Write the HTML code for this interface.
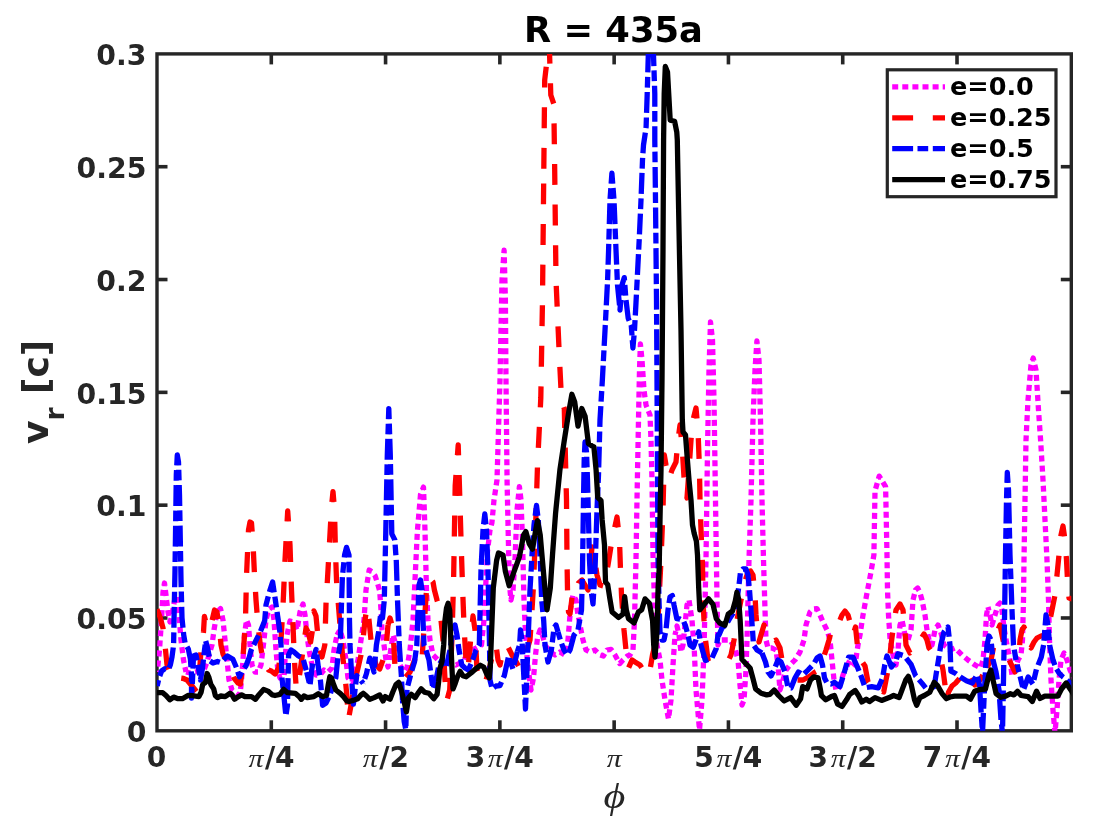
<!DOCTYPE html><html><head><meta charset="utf-8"><style>html,body{margin:0;padding:0;background:#fff;overflow:hidden}svg{display:block}</style></head><body><div id="w"><svg width="1094" height="830" viewBox="0 0 1094 830">
<rect width="1094" height="830" fill="#fff"/>
<g stroke="#262626" stroke-width="3.4" fill="none" stroke-linecap="square">
<rect x="157.0" y="53.9" width="914.30" height="676.90"/>
</g>
<g stroke="#262626" stroke-width="3.6" fill="none" stroke-linecap="butt">
<line x1="271.29" y1="730.8" x2="271.29" y2="720.3"/>
<line x1="271.29" y1="53.9" x2="271.29" y2="64.4"/>
<line x1="385.57" y1="730.8" x2="385.57" y2="720.3"/>
<line x1="385.57" y1="53.9" x2="385.57" y2="64.4"/>
<line x1="499.86" y1="730.8" x2="499.86" y2="720.3"/>
<line x1="499.86" y1="53.9" x2="499.86" y2="64.4"/>
<line x1="614.15" y1="730.8" x2="614.15" y2="720.3"/>
<line x1="614.15" y1="53.9" x2="614.15" y2="64.4"/>
<line x1="728.44" y1="730.8" x2="728.44" y2="720.3"/>
<line x1="728.44" y1="53.9" x2="728.44" y2="64.4"/>
<line x1="842.72" y1="730.8" x2="842.72" y2="720.3"/>
<line x1="842.72" y1="53.9" x2="842.72" y2="64.4"/>
<line x1="957.01" y1="730.8" x2="957.01" y2="720.3"/>
<line x1="957.01" y1="53.9" x2="957.01" y2="64.4"/>
<line x1="157.0" y1="617.98" x2="167.5" y2="617.98"/>
<line x1="1071.3" y1="617.98" x2="1060.8" y2="617.98"/>
<line x1="157.0" y1="505.17" x2="167.5" y2="505.17"/>
<line x1="1071.3" y1="505.17" x2="1060.8" y2="505.17"/>
<line x1="157.0" y1="392.35" x2="167.5" y2="392.35"/>
<line x1="1071.3" y1="392.35" x2="1060.8" y2="392.35"/>
<line x1="157.0" y1="279.53" x2="167.5" y2="279.53"/>
<line x1="1071.3" y1="279.53" x2="1060.8" y2="279.53"/>
<line x1="157.0" y1="166.72" x2="167.5" y2="166.72"/>
<line x1="1071.3" y1="166.72" x2="1060.8" y2="166.72"/>
</g>
<g font-family="DejaVu Sans, sans-serif" font-weight="bold" font-size="28.3" fill="#262626" text-anchor="end">
<text x="146.4" y="742.10">0</text>
<text x="146.4" y="629.28">0.05</text>
<text x="146.4" y="516.47">0.1</text>
<text x="146.4" y="403.65">0.15</text>
<text x="146.4" y="290.83">0.2</text>
<text x="146.4" y="178.02">0.25</text>
<text x="146.4" y="65.20">0.3</text>
</g>
<text x="156.50" y="767.2" font-family="DejaVu Sans, sans-serif" font-weight="bold" font-size="28" fill="#262626" text-anchor="middle">0</text>
<text transform="translate(248.39,767.2) scale(1.15,1)" x="0" y="0" font-family="Liberation Serif, serif" font-style="italic" font-size="26" fill="#262626">π</text>
<text x="264.89" y="767.2" font-family="DejaVu Sans, sans-serif" font-weight="bold" font-size="28" fill="#262626">/4</text>
<text transform="translate(362.68,767.2) scale(1.15,1)" x="0" y="0" font-family="Liberation Serif, serif" font-style="italic" font-size="26" fill="#262626">π</text>
<text x="379.18" y="767.2" font-family="DejaVu Sans, sans-serif" font-weight="bold" font-size="28" fill="#262626">/2</text>
<text transform="translate(606.75,767.2) scale(1.15,1)" x="0" y="0" font-family="Liberation Serif, serif" font-style="italic" font-size="26" fill="#262626">π</text>
<text x="465.66" y="767.2" font-family="DejaVu Sans, sans-serif" font-weight="bold" font-size="28" fill="#262626">3</text>
<text transform="translate(487.86,767.2) scale(1.15,1)" x="0" y="0" font-family="Liberation Serif, serif" font-style="italic" font-size="26" fill="#262626">π</text>
<text x="504.06" y="767.2" font-family="DejaVu Sans, sans-serif" font-weight="bold" font-size="28" fill="#262626">/4</text>
<text x="694.24" y="767.2" font-family="DejaVu Sans, sans-serif" font-weight="bold" font-size="28" fill="#262626">5</text>
<text transform="translate(716.44,767.2) scale(1.15,1)" x="0" y="0" font-family="Liberation Serif, serif" font-style="italic" font-size="26" fill="#262626">π</text>
<text x="732.64" y="767.2" font-family="DejaVu Sans, sans-serif" font-weight="bold" font-size="28" fill="#262626">/4</text>
<text x="808.52" y="767.2" font-family="DejaVu Sans, sans-serif" font-weight="bold" font-size="28" fill="#262626">3</text>
<text transform="translate(830.72,767.2) scale(1.15,1)" x="0" y="0" font-family="Liberation Serif, serif" font-style="italic" font-size="26" fill="#262626">π</text>
<text x="846.92" y="767.2" font-family="DejaVu Sans, sans-serif" font-weight="bold" font-size="28" fill="#262626">/2</text>
<text x="922.81" y="767.2" font-family="DejaVu Sans, sans-serif" font-weight="bold" font-size="28" fill="#262626">7</text>
<text transform="translate(945.01,767.2) scale(1.15,1)" x="0" y="0" font-family="Liberation Serif, serif" font-style="italic" font-size="26" fill="#262626">π</text>
<text x="961.21" y="767.2" font-family="DejaVu Sans, sans-serif" font-weight="bold" font-size="28" fill="#262626">/4</text>
<g transform="translate(614.45,808) scale(1.17,1)"><text x="0" y="0" font-family="Liberation Serif, serif" font-style="italic" font-size="36" fill="#262626" text-anchor="middle">ϕ</text></g>
<g transform="translate(48.4,444) rotate(-90)" font-family="DejaVu Sans, sans-serif" font-weight="bold" font-size="36" fill="#262626"><text x="0" y="0">v<tspan font-size="26.5" dy="15.5">r</tspan><tspan dy="-15.5" dx="1"> [c]</tspan></text></g>
<text x="613.45" y="42.3" font-family="DejaVu Sans, sans-serif" font-weight="bold" font-size="35.3" fill="#000" text-anchor="middle">R = 435a</text>
<defs><clipPath id="cp"><rect x="157.0" y="53.9" width="914.30" height="676.90"/></clipPath></defs>
<g clip-path="url(#cp)" fill="none" stroke-width="5.3" stroke-linejoin="round">
<path d="M157.2 672.0 L159.5 650.0 L161.5 620.0 L163.0 592.0 L164.5 583.0 L166.0 595.0 L168.0 612.0 L170.0 622.0 L172.0 615.0 L175.0 598.0 L177.0 596.0 L179.0 615.0 L181.0 640.0 L183.5 660.0 L186.0 672.0" stroke="#ff00ff" stroke-dasharray="6 4.1" stroke-dashoffset="4.55" stroke-linecap="butt"/>
<path d="M186.0 672.0 L190.0 673.0 L195.0 672.0 L200.0 671.0 L204.0 670.0 L207.0 662.0 L209.0 655.0 L212.0 645.0 L214.0 630.0 L217.0 612.0 L220.5 608.5 L223.0 620.0 L225.0 640.0 L227.0 660.0 L229.0 680.0 L232.0 690.0 L237.0 694.0 L240.0 695.0 L241.5 680.0 L243.0 660.0 L244.5 635.0 L246.5 620.0 L248.5 625.0 L250.0 645.0 L252.0 665.0 L255.0 672.0 L258.0 672.0" stroke="#ff00ff" stroke-dasharray="6 4.1" stroke-dashoffset="0.76" stroke-linecap="butt"/>
<path d="M258.0 672.0 L261.0 665.0 L264.0 640.0 L266.0 620.0 L268.5 610.0 L272.0 607.0 L274.0 620.0 L276.0 650.0 L278.0 672.0 L280.0 678.0 L284.0 677.0 L285.0 660.0 L287.0 635.0 L290.0 621.0 L294.0 622.0 L297.0 630.0 L300.0 612.0 L303.0 604.0 L305.0 615.0 L307.0 635.0 L309.0 650.0 L312.0 665.0 L316.0 675.0 L320.0 675.0 L324.0 670.0 L328.0 672.0 L332.0 668.0 L334.0 650.0 L337.0 635.0" stroke="#ff00ff" stroke-dasharray="6 4.1" stroke-dashoffset="5.94" stroke-linecap="butt"/>
<path d="M337.0 635.0 L340.0 630.0 L343.0 640.0 L346.0 660.0 L348.0 678.0 L352.0 682.0 L356.0 668.0 L358.0 660.0 L361.0 640.0 L364.0 620.0 L366.0 590.0 L369.2 570.0 L372.0 572.0 L375.2 576.0 L378.0 585.0 L379.7 591.0 L381.0 610.0 L382.0 630.0 L384.0 645.0 L386.0 660.0 L388.0 667.0 L390.0 655.0" stroke="#ff00ff" stroke-dasharray="6 4.1" stroke-dashoffset="0.86" stroke-linecap="butt"/>
<path d="M390.0 655.0 L393.0 635.0 L396.0 645.0 L400.0 665.0 L404.0 672.0 L407.0 668.0 L410.0 650.0 L413.0 620.0 L415.0 580.0 L417.4 530.8 L420.5 494.6 L423.5 487.1 L425.0 530.8 L426.5 591.2 L428.0 620.0 L430.0 640.0 L433.0 655.0 L438.0 660.0 L443.0 665.0 L448.0 660.0 L452.0 662.0 L456.0 665.0 L460.0 663.0 L464.0 660.0 L468.4 652.0" stroke="#ff00ff" stroke-dasharray="6 4.1" stroke-dashoffset="9.26" stroke-linecap="butt"/>
<path d="M468.4 652.0 L472.0 650.0 L476.0 648.0 L481.5 645.0 L484.0 620.0 L486.0 580.0 L487.5 551.3 L490.0 530.0 L491.9 522.9 L494.0 500.0 L497.0 480.0 L500.0 380.0 L502.0 280.0 L504.1 250.2 L505.4 300.0 L506.0 381.0 L507.1 482.4 L508.8 560.0 L510.0 590.0" stroke="#ff00ff" stroke-dasharray="6 4.1" stroke-dashoffset="6.38" stroke-linecap="butt"/>
<path d="M510.0 590.0 L511.0 600.0 L513.0 590.0 L515.0 560.0 L517.0 510.0 L519.4 486.6 L521.0 500.0 L522.5 540.0 L524.0 600.0 L525.0 623.0 L527.3 661.5 L531.0 690.0 L533.5 678.0 L535.5 655.0 L537.5 638.0 L540.0 630.0 L542.5 635.0 L545.0 645.0 L550.0 652.0 L555.0 655.0 L560.0 652.0 L565.0 655.0 L568.0 640.0 L570.4 610.0 L573.0 595.0 L576.0 600.0 L578.0 615.0" stroke="#ff00ff" stroke-dasharray="6 4.1" stroke-dashoffset="0.32" stroke-linecap="butt"/>
<path d="M578.0 615.0 L580.0 625.0 L583.0 640.0 L586.0 650.0 L590.0 652.0 L595.0 650.0 L600.0 655.0 L603.3 656.0 L607.0 650.0 L611.0 649.4 L615.0 655.0 L619.7 663.6 L623.0 660.0 L627.4 656.0 L630.0 655.0 L633.0 650.0 L634.5 620.0 L636.0 560.0 L637.0 500.0 L638.5 420.0 L639.5 370.0 L640.4 344.0 L642.0 360.0 L644.0 390.0 L646.0 405.0 L648.0 410.0 L650.0 415.0 L651.0 440.0 L652.0 480.0 L653.0 555.0 L655.0 620.0 L657.0 645.0 L660.0 660.0 L662.0 680.0 L665.0 700.0 L668.5 719.0 L671.0 700.0 L673.0 665.0 L675.0 635.0" stroke="#ff00ff" stroke-dasharray="6 4.1" stroke-dashoffset="7.46" stroke-linecap="butt"/>
<path d="M675.0 635.0 L677.0 626.0 L679.0 635.0 L681.0 652.0 L683.0 645.0 L685.0 625.0 L687.0 605.0 L689.0 600.0 L692.0 620.0 L694.3 650.0 L696.0 690.0 L699.5 730.0 L702.0 700.0 L704.0 650.0 L706.0 560.0 L707.5 450.0 L709.0 370.0 L710.5 322.0 L712.5 340.0 L714.0 400.0 L715.5 500.0 L717.0 600.0 L718.0 645.0 L720.0 640.0 L725.0 640.0 L730.0 640.0 L735.0 648.0 L738.0 660.0" stroke="#ff00ff" stroke-dasharray="6 4.1" stroke-dashoffset="2.06" stroke-linecap="butt"/>
<path d="M738.0 660.0 L740.0 685.0 L742.0 705.0 L744.0 700.0 L746.0 670.0 L747.0 640.0 L748.0 600.0 L749.0 560.0 L751.0 500.0 L753.0 420.0 L755.0 370.0 L756.9 341.0 L759.0 360.0 L760.5 420.0 L762.0 500.0 L763.5 560.0 L765.0 610.0 L766.0 640.0 L768.0 648.0 L772.0 648.0 L776.0 650.0 L778.0 665.0" stroke="#ff00ff" stroke-dasharray="6 4.1" stroke-dashoffset="7.27" stroke-linecap="butt"/>
<path d="M778.0 665.0 L780.0 690.0 L783.0 680.0 L786.0 670.0 L790.0 665.0 L795.0 660.0 L800.0 652.0 L804.0 640.0 L806.0 625.0 L810.0 612.0 L813.0 609.0 L817.0 608.7 L820.0 615.0 L823.0 622.0 L827.0 630.0 L830.0 640.0 L832.0 660.0 L834.0 680.0 L836.0 690.0 L839.0 688.0 L843.0 675.0 L846.0 668.0" stroke="#ff00ff" stroke-dasharray="6 4.1" stroke-dashoffset="5.69" stroke-linecap="butt"/>
<path d="M846.0 668.0 L850.0 660.0 L855.0 665.0 L858.0 645.0 L860.0 635.0 L863.0 615.0 L867.0 593.0 L870.6 574.0 L873.9 555.0 L875.0 490.9 L879.2 476.1 L885.6 486.7 L887.0 555.0 L887.5 590.0 L888.5 615.0 L890.0 638.0 L893.0 655.0 L896.0 665.0 L898.0 650.0" stroke="#ff00ff" stroke-dasharray="6 4.1" stroke-dashoffset="7.96" stroke-linecap="butt"/>
<path d="M898.0 650.0 L900.0 625.0 L902.0 620.0 L905.0 635.0 L908.0 640.0 L911.0 630.0 L913.0 600.0 L915.5 590.0 L917.7 588.0 L920.0 593.0 L922.0 600.0 L925.0 615.0 L927.0 630.0 L929.0 640.0 L932.0 645.0 L935.0 630.0 L938.0 625.0 L941.0 633.0 L944.0 645.0 L950.0 650.0 L955.0 648.0 L962.0 655.0 L968.0 660.0 L975.0 665.0 L980.7 668.0 L983.0 660.0 L985.0 640.0 L986.5 615.0 L988.0 607.0" stroke="#ff00ff" stroke-dasharray="6 4.1" stroke-dashoffset="8.72" stroke-linecap="butt"/>
<path d="M988.0 607.0 L990.0 615.0 L992.0 625.0 L995.0 615.0 L998.0 605.0 L1000.0 603.0 L1002.0 610.0 L1004.0 628.0 L1007.0 645.0 L1010.0 660.0 L1012.0 675.0 L1015.0 670.0 L1018.0 660.0 L1021.0 655.0 L1022.5 640.0 L1023.5 600.0 L1024.0 560.0 L1025.0 500.0 L1026.0 440.0 L1028.0 400.0 L1031.0 365.0 L1033.2 358.0 L1036.0 370.0 L1038.5 410.0 L1040.6 440.0 L1043.0 480.0 L1045.0 520.0 L1047.0 560.0 L1048.5 600.0 L1049.5 640.0 L1051.0 680.0 L1053.0 710.0 L1055.0 733.0 L1057.0 710.0 L1059.0 680.0 L1061.0 660.0 L1064.0 653.0 L1067.0 660.0 L1070.0 670.0 L1075.0 680.0" stroke="#ff00ff" stroke-dasharray="6 4.1" stroke-dashoffset="2.34" stroke-linecap="butt"/>
<path d="M156.0 607.0 L160.0 617.0 L163.0 628.0 L165.0 645.0 L167.0 664.7 L171.5 676.8 L174.7 680.1 L179.1 677.9 L183.5 678.5 L187.0 680.0 L192.0 686.0 L197.0 692.0 L199.0 680.0 L201.0 650.0 L203.5 632.0 L204.4 616.4 L207.6 629.6 L212.0 620.8 L214.5 610.0 L217.0 612.0 L219.7 631.0 L221.0 645.0 L223.0 654.0 L227.0 662.0 L231.0 670.0 L234.0 678.0 L238.0 683.0 L240.5 684.0 L242.0 670.0 L243.5 650.0 L245.5 620.0 L246.5 576.0 L248.5 530.0 L250.0 522.0 L251.5 523.0 L253.0 543.0 L254.5 575.0 L256.0 600.0 L258.0 625.0 L260.3 645.0 L263.0 660.0 L265.8 666.0" stroke="#ff0000" stroke-dasharray="20.9 19.7" stroke-dashoffset="38.13" stroke-linecap="butt"/>
<path d="M265.8 666.0 L268.5 670.0 L271.3 671.0 L275.0 674.0 L278.8 668.0 L281.0 640.0 L282.5 615.0 L283.5 595.0 L285.0 560.0 L287.7 511.0 L290.0 545.0 L291.5 590.0 L293.0 625.0 L294.0 650.0 L295.0 670.0 L296.3 689.0 L298.5 682.0 L301.0 665.0 L303.0 650.0 L306.0 628.0 L308.0 632.0" stroke="#ff0000" stroke-dasharray="20.9 19.7" stroke-dashoffset="36.52" stroke-linecap="butt"/>
<path d="M308.0 632.0 L310.6 642.0 L312.8 628.0 L313.9 611.0 L316.0 616.0 L318.3 640.0 L320.0 650.0 L322.0 657.0 L324.8 645.0 L326.0 604.0 L328.0 570.0 L331.5 506.7 L333.0 491.6 L334.5 509.7 L335.4 548.9 L336.5 580.0 L338.0 600.0 L340.0 625.0 L342.4 653.8 L344.6 672.4 L346.8 694.4 L348.4 719.6 L352.0 700.0 L355.0 680.0 L358.0 668.0 L361.0 655.0 L363.0 640.0 L365.0 620.0 L367.0 607.0 L369.0 620.0 L371.0 640.0 L373.0 652.0 L376.0 665.0 L379.7 669.0 L383.0 660.0 L386.3 645.0 L388.0 625.0" stroke="#ff0000" stroke-dasharray="20.9 19.7" stroke-dashoffset="40.18" stroke-linecap="butt"/>
<path d="M388.0 625.0 L390.0 618.0 L392.0 625.0 L393.8 645.0 L395.0 667.0 L400.0 675.0 L405.0 678.0 L410.0 672.0 L414.6 660.0 L418.0 667.0 L422.3 655.0 L424.5 620.0 L426.5 590.0 L429.5 578.0 L433.0 582.0 L434.4 590.0 L437.0 600.0 L440.0 610.0 L443.0 640.0 L445.0 680.0 L447.0 700.0 L449.7 690.0 L451.9 640.0 L453.6 580.0 L455.2 485.6 L458.2 444.9 L459.7 494.6 L461.2 545.9 L462.7 591.2 L464.2 630.0 L466.0 660.0 L468.0 670.0 L470.6 640.0 L473.0 616.0 L475.0 630.0 L477.0 670.0 L480.0 680.0 L483.0 684.0 L486.0 680.0 L489.0 670.0 L493.6 650.0 L496.0 645.0 L498.0 660.0 L500.0 665.0 L503.0 650.0 L507.0 645.0 L512.0 655.0 L516.3 662.0 L519.0 667.0 L523.0 660.0 L527.0 650.0 L530.0 640.0 L532.0 610.0 L533.5 585.0 L535.0 545.0 L537.5 465.6 L540.8 398.0 L542.5 300.0 L543.8 170.0" stroke="#ff0000" stroke-dasharray="20.9 19.7" stroke-dashoffset="8.05" stroke-linecap="butt"/>
<path d="M543.8 170.0 L544.7 80.0 L546.8 62.0 L549.3 45.0 L550.8 95.0 L553.8 104.0 L554.7 170.0 L556.0 280.0 L559.4 357.6 L561.1 391.3 L562.0 402.0 L564.3 408.5 L565.0 440.0 L566.5 500.0 L567.0 560.0 L567.5 590.0 L568.5 612.0 L570.0 614.0 L572.0 598.0 L574.0 588.0 L576.0 590.0 L578.5 583.0 L582.0 580.0 L585.0 585.0 L588.0 590.0 L590.0 570.0 L592.0 547.0 L594.0 555.0 L597.0 575.0 L600.0 585.0 L603.5 586.0 L606.0 575.0 L608.0 565.0 L612.0 540.0 L617.0 517.0 L619.5 540.0 L620.5 570.0 L621.5 595.0 L624.0 630.0 L627.0 660.0 L628.5 668.0 L632.0 660.0 L635.0 662.0 L640.0 665.0 L645.0 673.0 L647.5 676.0 L650.0 670.0 L652.5 655.0 L655.0 645.0 L658.0 620.0" stroke="#ff0000" stroke-dasharray="20.9 19.7" stroke-dashoffset="39.39" stroke-linecap="butt"/>
<path d="M658.0 620.0 L661.0 560.0 L663.0 510.0 L664.3 455.0 L666.0 465.0 L669.0 479.0 L672.0 470.0 L676.0 462.0 L678.0 440.0 L680.0 425.0 L682.0 445.0 L684.5 485.0 L687.0 498.0 L689.0 470.0 L691.0 440.0 L693.0 420.0 L696.0 408.0 L698.0 430.0 L699.5 470.0 L700.0 500.0 L701.0 530.0 L702.5 565.0 L703.0 600.0 L704.0 620.0 L705.5 640.0 L708.0 660.0 L712.0 668.0 L716.0 672.0" stroke="#ff0000" stroke-dasharray="20.9 19.7" stroke-dashoffset="7.18" stroke-linecap="butt"/>
<path d="M716.0 672.0 L720.0 671.0 L724.0 667.0 L728.0 661.0 L731.0 655.0 L734.0 640.0 L737.0 620.0 L740.0 605.0 L743.0 590.0 L746.0 578.0 L748.0 572.0 L750.6 571.0 L753.0 575.0 L755.0 595.0 L756.0 615.0 L757.5 632.0 L759.0 642.0 L761.0 635.0 L764.0 625.0 L768.0 635.0 L772.0 642.0 L776.0 640.0 L780.0 648.0 L782.0 660.0 L785.0 672.0" stroke="#ff0000" stroke-dasharray="20.9 19.7" stroke-dashoffset="20.96" stroke-linecap="butt"/>
<path d="M785.0 672.0 L788.0 676.0 L795.0 680.0 L803.0 680.0 L810.0 676.0 L815.0 672.0 L819.0 670.0 L822.0 662.0 L826.0 650.0 L829.0 640.0 L831.0 632.0 L834.0 625.0 L838.0 625.0 L842.0 615.0 L845.0 611.0 L848.0 615.0 L850.0 622.0 L853.0 635.0 L855.5 627.0 L857.4 645.0 L861.0 660.0 L865.0 666.0 L868.0 682.0 L872.0 688.0" stroke="#ff0000" stroke-dasharray="20.9 19.7" stroke-dashoffset="24.98" stroke-linecap="butt"/>
<path d="M872.0 688.0 L876.0 690.0 L880.0 690.0 L883.7 692.0 L886.0 680.0 L889.0 665.0 L891.0 645.0 L893.0 630.0 L896.0 610.0 L900.0 604.0 L903.0 610.0 L904.5 625.0 L906.0 645.0 L910.0 653.0 L913.0 650.0 L916.0 645.0 L920.0 640.0 L924.0 634.0 L927.0 640.0 L929.0 648.0 L932.0 652.0 L936.0 655.0 L940.8 659.0 L943.0 670.0 L945.0 685.0 L946.5 700.0 L948.6 692.0 L952.0 686.0 L955.7 683.0 L960.0 678.0 L963.0 672.0 L967.0 671.0 L971.0 680.0 L975.0 685.0 L980.0 680.0 L986.6 668.0" stroke="#ff0000" stroke-dasharray="20.9 19.7" stroke-dashoffset="29.39" stroke-linecap="butt"/>
<path d="M986.6 668.0 L991.0 660.0 L994.0 645.0 L997.0 632.0 L1000.0 625.0 L1003.0 640.0 L1007.0 655.0 L1011.5 665.0 L1015.0 672.0 L1018.7 660.0 L1020.0 640.0 L1022.0 630.0 L1024.0 627.0 L1026.0 632.0 L1028.0 645.0 L1031.0 648.0 L1034.0 642.0 L1037.0 638.0 L1041.0 636.0 L1045.0 635.0 L1049.0 625.0 L1052.0 610.0 L1055.0 595.0 L1057.0 575.0 L1059.0 555.0 L1061.0 535.0 L1063.0 526.0 L1065.0 540.0 L1066.5 560.0 L1067.5 580.0 L1069.0 598.0 L1075.0 600.0" stroke="#ff0000" stroke-dasharray="20.9 19.7" stroke-dashoffset="39.88" stroke-linecap="butt"/>
<path d="M157.2 686.0 L159.0 678.0 L161.6 671.0 L164.9 668.6 L168.2 670.0 L170.4 664.7 L172.0 657.0 L173.6 645.0 L174.2 610.0 L175.0 570.0 L175.7 520.0 L176.3 475.0 L177.3 455.0 L178.5 462.0 L179.5 495.0 L180.3 540.0 L181.0 580.0 L182.0 618.0 L183.7 635.0 L185.2 643.5 L188.3 649.0 L190.4 659.0 L191.5 675.0 L191.5 698.0 L192.5 680.0 L193.5 656.0 L196.0 655.0 L198.0 665.0 L200.5 680.0 L202.5 668.0 L204.5 650.0 L205.7 641.0" stroke="#0000ff" stroke-dasharray="20.9 4.4 10.7 4.6" stroke-dashoffset="14.96" stroke-linecap="butt"/>
<path d="M205.7 641.0 L208.0 650.0 L210.0 661.0 L213.0 663.0 L217.5 661.5 L220.8 662.5 L227.4 656.0 L232.9 659.3 L236.2 667.0 L239.5 676.8 L242.7 670.2 L246.0 665.8 L249.3 657.1 L251.0 650.5 L253.7 645.0 L260.3 631.8 L264.7 620.8 L266.0 605.0 L268.1 597.0 L270.0 590.0 L272.6 582.0 L273.5 588.0 L275.5 601.0 L277.7 616.4 L279.9 631.8 L281.0 645.0 L282.0 678.0 L284.3 700.0 L285.9 716.0 L287.5 705.0 L288.0 680.0 L288.6 655.0 L291.0 650.0 L294.0 652.0 L298.5 656.0 L302.9 658.2 L306.2 670.2" stroke="#0000ff" stroke-dasharray="20.9 4.4 10.7 4.6" stroke-dashoffset="4.71" stroke-linecap="butt"/>
<path d="M306.2 670.2 L310.0 685.6 L311.7 670.2 L313.9 656.0 L316.1 649.4 L318.3 667.0 L320.5 681.2 L322.6 705.3 L326.0 703.0 L330.0 695.0 L333.0 685.0 L335.8 677.9 L338.0 656.0 L340.2 645.0 L341.3 610.0 L342.4 577.0 L344.6 555.0 L346.5 547.4 L349.0 555.0 L349.2 588.0 L349.5 620.8 L350.0 645.0 L351.2 667.0 L352.3 688.9 L353.4 704.2 L355.0 690.0 L356.7 675.7 L359.0 678.0 L363.2 683.4" stroke="#0000ff" stroke-dasharray="20.9 4.4 10.7 4.6" stroke-dashoffset="23.34" stroke-linecap="butt"/>
<path d="M363.2 683.4 L366.5 673.5 L369.8 658.2 L372.0 665.0 L374.0 672.0 L376.4 645.0 L378.6 632.0 L380.8 613.0 L382.5 618.0 L384.3 600.0 L385.8 530.8 L387.3 455.4 L388.8 408.7 L390.3 455.4 L391.8 533.8 L394.8 539.9 L396.3 561.0 L397.5 600.0 L399.3 645.0 L400.4 661.5 L401.5 678.0 L402.5 700.0" stroke="#0000ff" stroke-dasharray="20.9 4.4 10.7 4.6" stroke-dashoffset="20.59" stroke-linecap="butt"/>
<path d="M402.5 700.0 L404.2 721.8 L405.8 729.5 L407.0 688.9 L411.3 672.4 L414.6 661.5 L416.8 645.0 L418.0 610.0 L419.0 585.0 L420.5 580.0 L422.0 590.0 L423.0 620.0 L424.0 645.0 L426.0 650.0 L429.0 660.0 L431.0 675.0 L433.0 689.0 L436.0 680.0 L439.0 665.0 L442.0 660.0 L446.0 668.0 L450.0 650.0" stroke="#0000ff" stroke-dasharray="20.9 4.4 10.7 4.6" stroke-dashoffset="32.76" stroke-linecap="butt"/>
<path d="M450.0 650.0 L453.0 630.0 L455.0 625.0 L457.0 635.0 L459.0 650.0 L461.8 665.0 L465.0 668.0 L468.4 670.0 L472.7 660.0 L476.0 650.0 L479.3 645.0 L481.0 570.0 L483.0 530.0 L484.8 514.0 L486.5 530.0 L488.0 570.0 L489.5 645.0 L490.0 680.0 L492.2 688.9 L496.0 686.0 L499.9 685.6 L504.3 675.7 L508.6 656.0 L513.0 669.1 L517.4 651.6" stroke="#0000ff" stroke-dasharray="20.9 4.4 10.7 4.6" stroke-dashoffset="20.94" stroke-linecap="butt"/>
<path d="M517.4 651.6 L519.6 645.0 L520.5 630.0 L522.0 640.0 L523.5 670.0 L525.5 709.0 L527.0 670.0 L528.5 630.0 L530.0 590.0 L532.0 555.0 L534.0 525.0 L536.5 505.5 L538.3 520.0 L539.5 545.0 L540.5 566.0 L541.6 599.0 L543.7 620.8 L545.0 645.0 L548.0 662.0 L551.4 650.0 L554.0 628.0 L556.0 625.0 L558.0 632.0" stroke="#0000ff" stroke-dasharray="20.9 4.4 10.7 4.6" stroke-dashoffset="30.20" stroke-linecap="butt"/>
<path d="M558.0 632.0 L561.0 642.0 L564.0 650.0 L567.0 655.0 L570.0 650.0 L574.0 635.0 L578.0 630.0 L581.5 610.0 L582.5 570.0 L583.5 500.0 L584.2 460.0 L585.0 442.0 L586.5 452.0 L587.5 480.0 L588.5 520.0 L589.5 560.0 L591.0 590.0 L593.0 604.0 L595.0 570.0 L597.0 510.0" stroke="#0000ff" stroke-dasharray="20.9 4.4 10.7 4.6" stroke-dashoffset="13.13" stroke-linecap="butt"/>
<path d="M597.0 510.0 L598.5 475.0 L600.0 420.0 L602.3 381.0 L605.0 330.6 L607.6 280.0 L608.6 250.0 L610.0 200.0 L611.9 173.2 L614.0 200.0 L616.0 250.0 L617.5 285.0 L619.0 300.0 L620.0 310.0 L622.0 285.0 L624.3 277.6 L626.0 300.0 L628.2 318.3 L631.3 326.0 L632.9 348.0 L634.5 330.0 L636.0 302.7 L638.4 255.7 L639.2 240.0 L641.0 200.0 L642.5 160.0 L643.5 145.0 L645.0 135.0 L646.1 126.8 L647.2 93.9 L648.3 55.0 L650.0 40.0 L653.0 40.0 L654.8 93.9 L654.8 140.0 L655.5 200.0 L656.0 250.0 L656.5 300.0 L657.0 380.0 L657.5 470.0 L658.0 560.0 L659.0 600.0 L660.0 632.0 L662.0 640.0 L664.0 640.0 L666.0 630.0 L668.0 610.0 L670.0 597.0 L672.4 595.6 L674.0 605.0 L676.8 618.6 L680.0 619.0 L683.4 620.8 L685.6 626.3 L688.0 635.0 L690.0 645.0 L693.2 647.2 L696.0 640.0 L698.7 631.8 L701.0 645.0 L705.3 660.4 L711.9 658.2 L716.3 648.3 L718.0 635.0 L719.0 635.0 L722.0 628.0 L726.0 625.0 L730.0 618.0 L734.0 612.0 L737.0 600.0 L739.0 585.0 L740.5 572.0 L743.0 569.0 L746.0 569.0 L748.0 575.0 L749.5 590.0 L751.0 610.0 L752.5 630.0 L753.5 645.0 L757.0 650.0 L762.0 653.0" stroke="#0000ff" stroke-dasharray="20.9 4.4 10.7 4.6" stroke-dashoffset="38.69" stroke-linecap="butt"/>
<path d="M762.0 653.0 L765.5 662.0 L768.0 672.0 L771.0 676.0 L774.0 670.0 L778.0 660.0 L781.0 662.0 L785.0 672.0 L788.0 688.0 L791.0 688.0 L795.0 678.0 L798.4 672.0 L803.0 675.0 L808.0 670.0 L813.7 664.0 L817.0 658.0 L820.0 656.0 L822.5 665.0 L824.5 678.0 L827.0 683.0 L831.0 684.0 L834.4 682.3 L839.9 686.7 L844.3 672.4 L848.6 657.1 L853.0 657.1 L857.4 667.0 L861.8 677.9 L865.1 687.8 L871.7 686.7 L878.3 687.8 L882.6 677.9 L884.8 664.7 L887.0 656.0 L891.4 667.0 L895.8 661.5 L898.0 653.8 L904.6 656.0 L911.2 664.7 L915.6 675.7 L922.1 683.4 L926.5 688.9 L934.2 686.7 L936.4 672.4 L938.6 659.3 L940.8 645.0 L944.0 632.0 L948.0 627.0 L950.0 645.0 L950.9 671.1 L955.7 673.5 L960.4 677.1 L966.4 680.7 L972.3 683.0 L977.1 674.7 L979.5 685.0 L981.0 710.0 L982.5 733.0 L984.0 700.0 L985.5 670.0 L987.0 645.0 L989.0 636.0 L991.0 640.0 L993.0 660.0 L996.0 672.0 L999.0 690.0 L1001.0 720.0 L1002.5 733.0 L1003.5 680.0 L1004.5 620.0 L1005.5 555.0 L1006.5 500.0 L1007.3 472.5 L1008.5 490.0 L1010.0 555.0 L1012.0 610.0 L1013.5 645.0 L1016.0 660.0 L1019.0 672.0" stroke="#0000ff" stroke-dasharray="20.9 4.4 10.7 4.6" stroke-dashoffset="5.44" stroke-linecap="butt"/>
<path d="M1019.0 672.0 L1023.4 690.0 L1028.2 677.0 L1032.9 684.0 L1036.5 669.0 L1041.3 657.0 L1043.6 645.0 L1046.0 615.0 L1048.0 625.0 L1049.6 645.0 L1053.0 660.0 L1056.0 668.0 L1059.0 673.0 L1063.0 677.0 L1067.0 680.0 L1071.0 684.0 L1075.0 686.0" stroke="#0000ff" stroke-dasharray="20.9 4.4 10.7 4.6" stroke-dashoffset="20.77" stroke-linecap="butt"/>
<path d="M157.2 692.7 L162.7 692.7 L166.0 695.5 L169.8 699.8 L173.6 697.1 L178.0 698.7 L182.4 698.7 L187.9 695.5 L192.3 695.7 L198.9 696.6 L201.1 692.2 L202.7 684.5 L205.5 682.3 L207.1 673.5 L208.7 676.8 L210.9 684.5 L213.7 688.9 L215.3 695.5 L217.5 697.6 L220.8 696.0 L225.2 696.6 L230.1 693.3 L231.8 694.4 L234.5 699.3 L238.4 696.6 L241.7 694.9 L244.9 696.6 L251.5 696.6 L255.4 699.3 L259.2 694.4 L263.6 689.4 L268.0 691.1 L272.4 694.9 L275.0 695.5 L279.9 694.4 L283.7 689.4 L287.5 692.7 L295.2 693.3 L299.6 697.1 L301.3 699.3 L304.0 696.0 L307.3 697.6 L313.9 696.6 L318.3 693.8 L322.6 696.6 L326.5 695.5 L328.1 685.6 L329.8 676.8 L331.4 677.9 L333.6 684.5 L335.8 690.0 L340.2 693.3 L343.5 696.6 L346.8 701.0 L349.0 701.5 L353.4 700.4 L357.7 698.7 L361.0 694.9 L363.2 693.3 L366.5 696.0 L369.8 699.3 L374.2 697.6 L379.7 694.9 L383.0 701.0 L385.2 696.6 L390.0 699.3 L392.7 692.2 L396.0 684.5 L398.7 682.3 L401.5 691.1 L404.2 702.0 L406.4 711.9 L408.6 697.6 L411.3 694.4 L415.2 697.6 L417.9 693.3 L421.2 688.9 L424.5 692.2 L428.9 693.3 L433.8 698.7 L437.1 694.4 L438.7 681.2 L439.8 669.1 L442.0 661.5 L443.7 645.0 L445.0 620.0 L446.5 608.0 L448.1 603.3 L449.7 610.0 L450.8 640.0 L451.9 667.0 L453.0 688.9 L455.2 683.4 L457.4 676.8 L460.1 671.3 L462.9 675.7 L466.2 676.8 L471.7 672.4 L476.0 668.6 L480.4 665.3 L483.7 667.0 L487.0 674.6 L489.2 677.9 L490.3 667.0 L491.1 645.0 L493.3 588.0 L496.6 560.5 L498.5 553.0 L501.0 554.0 L503.0 555.0 L505.4 571.5 L509.2 585.7 L514.1 571.5 L519.4 556.8 L523.7 534.8 L525.9 531.6 L529.2 543.6 L532.5 549.1 L535.8 529.4 L537.5 520.6 L540.2 534.8 L542.4 560.0 L544.6 585.0 L547.0 609.8 L550.3 588.0 L552.5 555.0 L555.6 512.9 L559.9 470.0 L564.3 440.3 L568.6 412.9 L571.9 394.3 L574.7 401.9 L578.0 426.1 L581.8 408.5 L585.1 416.2 L588.4 443.6 L591.7 445.8 L593.9 446.9 L596.1 470.0 L597.7 497.4 L601.0 500.7 L602.1 519.4 L604.5 545.0 L605.0 565.0 L605.5 582.0 L607.7 584.6 L609.9 598.9 L612.1 612.0 L618.6 617.5 L623.0 614.2 L624.7 596.7 L626.3 609.8 L628.5 618.6 L634.0 623.0 L638.4 612.0 L641.7 609.8 L645.0 598.9 L649.4 603.3 L652.6 620.8 L653.7 645.0 L655.0 657.0 L657.0 631.8 L658.1 588.0 L659.2 568.2 L660.0 520.0 L661.0 470.0 L662.0 380.0 L663.0 250.0 L663.6 140.0 L664.2 93.9 L665.3 66.5 L667.5 72.0 L670.2 120.2 L674.6 121.3 L676.8 132.3 L677.3 140.0 L679.4 250.0 L681.0 330.0 L682.3 420.0 L683.0 432.0 L685.5 435.0 L687.0 455.0 L689.0 480.0 L691.0 500.0 L692.5 525.0 L694.2 533.6 L696.4 541.3 L697.5 555.0 L698.7 588.0 L699.8 609.8 L704.2 604.4 L708.6 598.9 L713.0 604.4 L716.3 618.6 L719.6 623.0 L724.9 625.2 L728.2 614.2 L732.5 611.0 L735.3 601.0 L736.9 592.3 L738.6 598.9 L740.2 620.8 L741.3 645.0 L741.9 659.3 L746.8 664.7 L750.1 668.0 L752.8 677.9 L755.6 688.9 L761.1 693.3 L766.6 694.9 L769.8 694.4 L774.2 690.0 L778.6 695.5 L784.1 701.0 L790.7 697.6 L796.2 705.3 L800.6 698.7 L802.7 686.7 L807.1 688.9 L810.4 680.1 L813.7 676.8 L818.1 677.9 L820.3 688.9 L821.4 695.5 L825.8 699.8 L831.3 696.6 L834.4 695.5 L837.7 704.2 L842.1 706.4 L846.5 699.8 L849.7 694.4 L855.2 690.5 L858.5 695.5 L861.8 702.0 L866.2 699.3 L869.5 701.5 L875.0 697.6 L881.6 700.4 L889.2 697.6 L893.6 695.5 L899.1 697.6 L902.4 688.9 L905.7 680.1 L908.4 676.3 L911.2 684.5 L914.5 699.8 L916.7 705.3 L919.9 697.6 L924.3 695.5 L929.8 692.2 L934.2 682.3 L937.5 685.6 L941.9 693.3 L946.3 698.7 L950.0 697.0 L954.5 696.1 L966.4 696.1 L970.5 699.1 L974.7 691.3 L979.5 689.6 L985.4 689.0 L989.0 674.7 L990.8 670.0 L993.7 683.0 L996.1 693.7 L1000.9 697.3 L1005.6 696.1 L1010.4 693.7 L1013.9 694.9 L1017.5 691.3 L1021.1 695.5 L1028.2 696.7 L1032.3 701.4 L1036.5 691.3 L1040.1 698.5 L1044.8 696.1 L1052.0 696.1 L1057.9 696.1 L1061.5 689.0 L1066.2 683.0 L1071.0 690.2 L1074.0 695.0" stroke="#000000" stroke-linecap="round"/>
</g>
<rect x="887.3" y="69.8" width="168.7" height="126.9" fill="#fff" stroke="#262626" stroke-width="3.2"/>
<line x1="892.2" y1="86.9" x2="945" y2="86.9" stroke="#ff00ff" stroke-width="5.3" stroke-dasharray="6 4.1"/>
<text x="950" y="94.7" font-family="DejaVu Sans, sans-serif" font-weight="bold" font-size="25.5" fill="#000">e=0.0</text>
<line x1="892.2" y1="117.8" x2="945" y2="117.8" stroke="#ff0000" stroke-width="5.3" stroke-dasharray="20.9 19.7"/>
<text x="950" y="126.2" font-family="DejaVu Sans, sans-serif" font-weight="bold" font-size="25.5" fill="#000">e=0.25</text>
<line x1="892.2" y1="148.7" x2="945" y2="148.7" stroke="#0000ff" stroke-width="5.3" stroke-dasharray="20.9 4.4 10.7 4.6"/>
<text x="950" y="157.1" font-family="DejaVu Sans, sans-serif" font-weight="bold" font-size="25.5" fill="#000">e=0.5</text>
<line x1="892.2" y1="179.6" x2="945" y2="179.6" stroke="#000000" stroke-width="5.3"/>
<text x="950" y="188.4" font-family="DejaVu Sans, sans-serif" font-weight="bold" font-size="25.5" fill="#000">e=0.75</text>
</svg></div></body></html>
